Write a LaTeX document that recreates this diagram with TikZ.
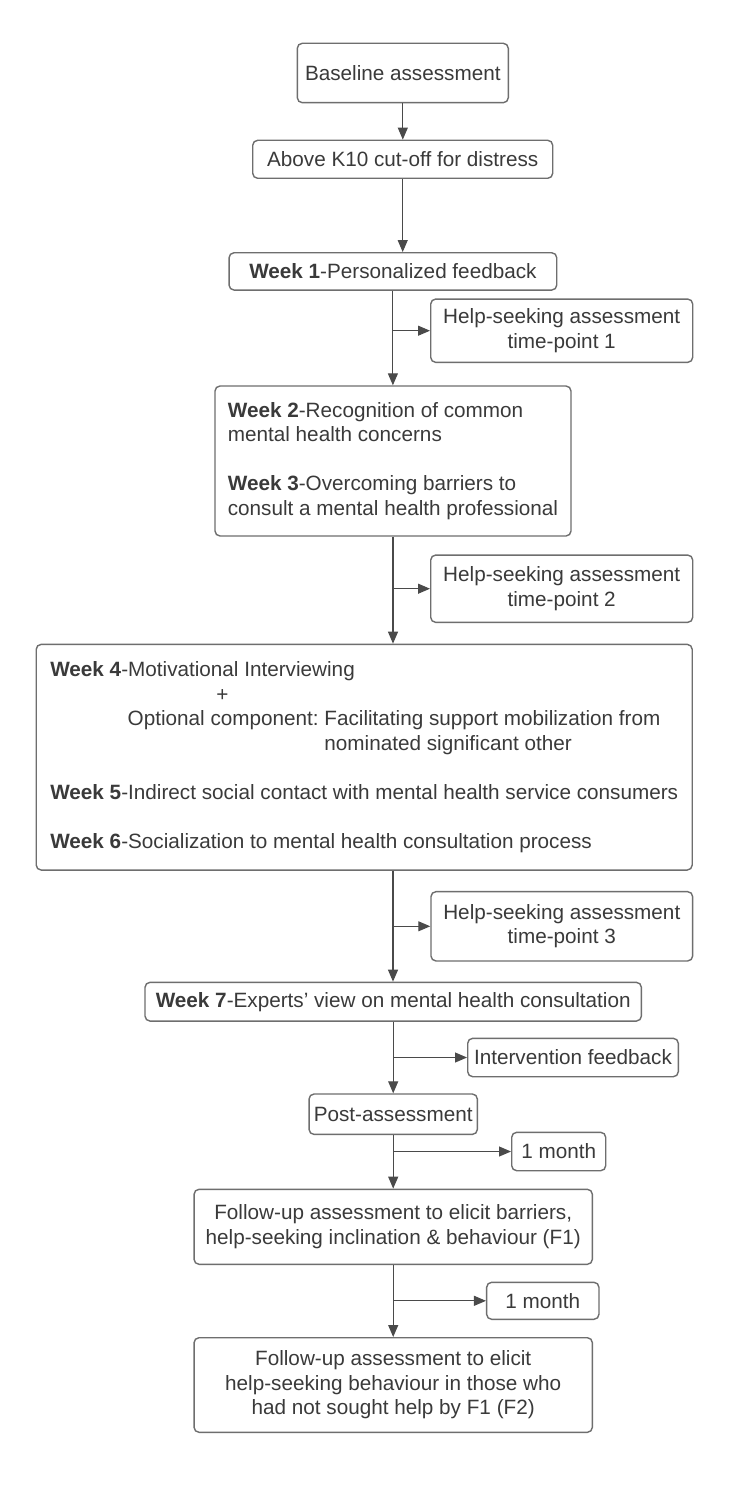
\documentclass[tikz,border=0pt]{standalone}
\usepackage{fontspec}
\setmainfont{Liberation Sans}
\usetikzlibrary{arrows.meta}
\definecolor{txt}{HTML}{3A3A3A}
\definecolor{brd}{HTML}{6E6E6E}
\definecolor{arr}{HTML}{4A4A4A}
\frenchspacing
\begin{document}
\begin{tikzpicture}[x=1pt,y=-1pt,
  box/.style={draw=brd, line width=1.4pt, rounded corners=5pt, text=txt,
    font=\fontsize{20.7}{24.5}\selectfont\frenchspacing, inner sep=0pt, align=center},
  conn/.style={draw=arr, line width=1.1pt, -{Triangle[length=12pt,width=10pt]}}]
\useasboundingbox[fill=white] (0,0) rectangle (750,1490);

\node[box, minimum width=211pt, minimum height=59.4pt] (base) at (402.8,73) {Baseline assessment};
\node[box, minimum width=300pt, minimum height=38pt] (k10) at (402.7,159.3) {Above K10 cut-off for distress};
\node[box, minimum width=327.7pt, minimum height=37.3pt] (w1) at (392.9,271.4) {\textbf{Week 1}-Personalized feedback};
\node[box, minimum width=262pt, minimum height=63.3pt] (hs1) at (561.7,330.7) {Help-seeking assessment\\time-point 1};
\node[box, minimum width=356pt, minimum height=150pt, align=left] (w23) at (393,461)
  {\textbf{Week 2}-Recognition of common\\mental health concerns\\[24.5pt]\textbf{Week 3}-Overcoming barriers to\\consult a mental health professional};
\node[box, minimum width=262pt, minimum height=67.3pt] (hs2) at (561.7,588.7) {Help-seeking assessment\\time-point 2};
\node[box, minimum width=656pt, minimum height=225.7pt, align=left] (w46) at (364.2,757.2)
  {\textbf{Week 4}-Motivational Interviewing\\
   \hspace*{166pt}+\\
   \hspace*{77.4pt}Optional component: Facilitating support mobilization from\\
   \hspace*{77.4pt}\phantom{Optional component: }nominated significant other\\[24.5pt]
   \textbf{Week 5}-Indirect social contact with mental health service consumers\\[24.5pt]
   \textbf{Week 6}-Socialization to mental health consultation process};
\node[box, minimum width=261.7pt, minimum height=69.3pt] (hs3) at (561.8,926.3) {Help-seeking assessment\\time-point 3};
\node[box, minimum width=496.4pt, minimum height=38.7pt] (w7) at (393.2,1001.7) {\textbf{Week 7}-Experts{\char"0027} view on mental health consultation};
\node[box, minimum width=210.6pt, minimum height=38.4pt] (ifb) at (573,1057.5) {Intervention feedback};
\node[box, minimum width=168.3pt, minimum height=40.4pt] (post) at (393.2,1114.2) {Post-assessment};
\node[box, minimum width=94pt, minimum height=38.4pt] (m1a) at (558.7,1151.5) {1 month};
\node[box, minimum width=398.3pt, minimum height=75pt] (f1) at (393.2,1226.8) {Follow-up assessment to elicit barriers,\\help-seeking inclination \& behaviour (F1)};
\node[box, minimum width=112.3pt, minimum height=37pt] (m1b) at (542.8,1300.8) {1 month};
\node[box, minimum width=398.3pt, minimum height=94.6pt] (f2) at (393.2,1385) {Follow-up assessment to elicit\\help-seeking behaviour in those who\\had not sought help by F1 (F2)};

% main trunk
\draw[conn] (base.south) -- (base.south |- k10.north);
\draw[conn] (k10.south) -- (k10.south |- w1.north);
\draw[conn] (w1.south) -- (w1.south |- w23.north);
\draw[conn] (w23.south) -- (w23.south |- w46.north);
\coordinate (t46) at (w23.south |- w46.south);
\draw[conn] (t46) -- (t46 |- w7.north);
\draw[conn] (w7.south) -- (w7.south |- post.north);
\draw[conn] (post.south) -- (post.south |- f1.north);
\draw[conn] (f1.south) -- (f1.south |- f2.north);

% branches
\coordinate (b1) at (w1.south |- hs1.west);
\draw[conn] (b1) -- (hs1.west);
\coordinate (b2) at (w23.south |- hs2.west);
\draw[conn] (b2) -- (hs2.west);
\coordinate (b3) at (t46 |- hs3.west);
\draw[conn] (b3) -- (hs3.west);
\coordinate (b4) at (w7.south |- ifb.west);
\draw[conn] (b4) -- (ifb.west);
\coordinate (b5) at (post.south |- m1a.west);
\draw[conn] (b5) -- (m1a.west);
\coordinate (b6) at (f1.south |- m1b.west);
\draw[conn] (b6) -- (m1b.west);
\end{tikzpicture}
\end{document}
